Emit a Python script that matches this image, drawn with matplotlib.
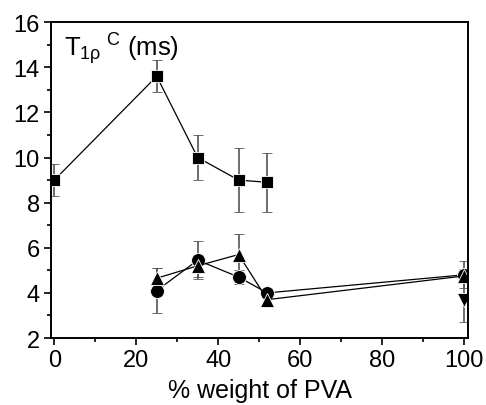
import numpy as np
import matplotlib
matplotlib.use("Agg")
import matplotlib.pyplot as plt

plt.rcParams['font.family'] = ['Liberation Sans', 'DejaVu Sans']
plt.rcParams['mathtext.fontset'] = 'custom'
plt.rcParams['mathtext.rm'] = 'Liberation Sans'
plt.rcParams['mathtext.it'] = 'Liberation Sans'

# dados
x_sq = [0, 25, 35, 45, 52]
y_sq = [9.0, 13.6, 10.0, 9.0, 8.9]
e_sq = [0.7, 0.7, 1.0, 1.4, 1.3]

x_ci = [25, 35, 45, 52, 100]
y_ci = [4.1, 5.45, 4.7, 4.0, 4.8]
e_ci = [1.0, 0.85, 0.3, 0.2, 0.6]

x_tu = [25, 35, 45, 52, 100]
y_tu = [4.65, 5.2, 5.7, 3.7, 4.75]
e_tu = [0.45, 0.5, 0.9, 0.3, 0.3]

x_td = [100]
y_td = [3.7]
e_td = [1.0]

fig = plt.figure(figsize=(4.86, 4.06), dpi=100)
ax = fig.add_axes([0.105, 0.165, 0.858, 0.778])

err = dict(ecolor='#555555', elinewidth=1.2, capsize=3.5, capthick=1.0)
ax.errorbar(x_sq, y_sq, yerr=e_sq, fmt='-s', color='black', ms=9,
            lw=0.9, markeredgecolor='white', markeredgewidth=0.6, **err)
ax.errorbar(x_ci, y_ci, yerr=e_ci, fmt='-o', color='black', ms=10,
            lw=0.9, markeredgecolor='white', markeredgewidth=0.6, **err)
ax.errorbar(x_tu, y_tu, yerr=e_tu, fmt='-^', color='black', ms=10.5,
            lw=0.9, markeredgecolor='white', markeredgewidth=0.6, **err)
ax.errorbar(x_td, y_td, yerr=e_td, fmt='v', color='black', ms=10.5,
            markeredgecolor='white', markeredgewidth=0.6, **err)

ax.set_xlim(-0.8, 101)
ax.set_ylim(2, 16)
ax.set_xticks(np.arange(0, 101, 20))
ax.set_xticks(np.arange(10, 101, 20), minor=True)
ax.set_yticks(np.arange(2, 17, 2))
ax.set_yticks(np.arange(3, 16, 2), minor=True)

ax.tick_params(which='major', direction='out', length=5, width=1.2,
               labelsize=17, top=False, right=False, pad=3)
ax.tick_params(which='minor', direction='out', length=3, width=1.2,
               top=False, right=False)
for s in ax.spines.values():
    s.set_linewidth(1.4)

ax.set_xlabel('% weight of PVA', fontsize=18, labelpad=5)
ax.text(0.03, 0.975, r'T$_{1\rho}$$^{\,\,C}$ (ms)', transform=ax.transAxes,
        fontsize=18.5, va='top', ha='left')

fig.savefig('out.png', dpi=100)
